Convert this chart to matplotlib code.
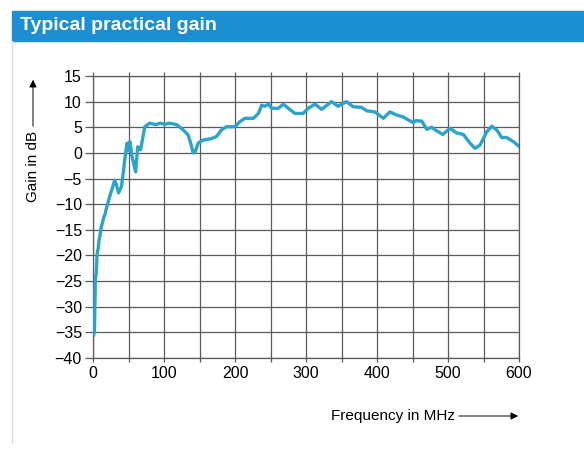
import matplotlib
matplotlib.use('Agg')
import matplotlib.pyplot as plt
from matplotlib.patches import Rectangle
from matplotlib.lines import Line2D
from matplotlib.ticker import MultipleLocator

# Gain curve (MHz, dB)
freq = [1, 2, 2.8, 3.3, 4.7, 5.5, 6, 7.5, 8.5, 10, 11.7, 13.5, 15.5, 17, 18.8,
        21, 23.5, 27, 30.5, 33, 36, 40, 42.5, 44.6, 48, 50, 52, 55, 58, 60,
        63, 67, 73, 80, 89, 94, 101, 108, 118, 127, 134, 137.6, 141, 144,
        148, 155, 167, 174, 181, 188, 200, 207, 214, 226, 233, 237.6, 242,
        247, 251.7, 261, 268, 275, 284.5, 296, 303, 312.7, 322, 336, 345,
        357, 366.5, 378, 385.6, 397, 409, 418, 427.6, 437, 451, 455, 463,
        470, 477, 484, 492.6, 503, 512, 521.7, 531, 538, 545, 554.5, 561.6,
        568.6, 575.6, 582.6, 592, 600]
gain = [-35.5, -34.5, -29, -24.8, -23.2, -20.5, -19.5, -18.5, -17, -16, -14.4, -13.5, -12.4, -12, -10.8,
        -9.8, -8.5, -7, -5.3, -6.2, -7.8, -6.6, -4, -1.4, 1.9, 0.5, 2.2, -0.7, -2.5, -3.7,
        1.2, 0.6, 5.1, 5.8, 5.5, 5.8, 5.6, 5.8, 5.5, 4.5, 3.5, 1.9, 0, 0.2,
        1.9, 2.5, 2.8, 3.2, 4.5, 5.1, 5.1, 6.1, 6.75, 6.75, 7.7, 9.3, 9.1,
        9.5, 8.7, 8.7, 9.5, 8.7, 7.7, 7.7, 8.7, 9.5, 8.5, 10, 9.1,
        10, 9.0, 8.9, 8.2, 8.0, 6.75, 8.0, 7.4, 7.0, 5.9, 6.3, 6.2,
        4.6, 5.0, 4.3, 3.6, 4.8, 3.9, 3.6, 1.9, 0.9, 1.5, 4.1, 5.2,
        4.5, 3.0, 3.0, 2.2, 1.3]

x_ticks = [0, 100, 200, 300, 400, 500, 600]
y_ticks = [15, 10, 5, 0, -5, -10, -15, -20, -25, -30, -35, -40]

W, H = 584, 451
plt.rcParams['font.family'] = ['Liberation Sans', 'DejaVu Sans']

fig = plt.figure(figsize=(W / 100, H / 100), dpi=100)
fig.patch.set_facecolor('white')

# title bar
fig.patches.append(Rectangle((12 / W, 1 - 41 / H), 1 - 12 / W, 30 / H,
                             transform=fig.transFigure, color='#1b8fd1', zorder=0))
fig.text(20 / W, 1 - 26 / H, 'Typical practical gain', color='white', fontsize=14,
         fontweight='bold', va='center', ha='left')
# panel border on the left
fig.lines.append(Line2D([12 / W, 12 / W], [1 - 443 / H, 1 - 41 / H],
                        transform=fig.transFigure, color='#dddddd', lw=1))

ax = fig.add_axes([93 / W, 1 - 358 / H, 426 / W, 282 / H])
ax.plot(freq, gain, color='#2aa4cc', lw=2.4, solid_joinstyle='round', zorder=3)

ax.set_xlim(0, 600)
ax.set_ylim(-40, 15)
ax.set_xticks(x_ticks)
ax.xaxis.set_minor_locator(MultipleLocator(50))
ax.set_yticks(y_ticks)
ax.grid(True, which='both', color='#5a5a5a', lw=0.9)
ax.set_axisbelow(True)
for s in ax.spines.values():
    s.set_color('#5a5a5a')
    s.set_linewidth(0.9)
ax.tick_params(axis='y', direction='out', length=6, width=0.9, color='#5a5a5a',
               labelsize=11.5, pad=2)
ax.tick_params(axis='x', which='both', direction='out', length=3, width=0.9,
               color='#5a5a5a', labelsize=11.5, pad=3, top=True)

# axis titles with arrows
fig.text(33 / W, 1 - 166 / H, 'Gain in dB', rotation=90, ha='center', va='center',
         fontsize=11)
fig.text(455 / W, 1 - 416 / H, 'Frequency in MHz', ha='right', va='center',
         fontsize=11)
ax.annotate('', xy=(33 / W, 1 - 77 / H), xytext=(33 / W, 1 - 129 / H),
            xycoords='figure fraction', textcoords='figure fraction',
            arrowprops=dict(arrowstyle='-|>', color='black', lw=0.7, mutation_scale=11))
ax.annotate('', xy=(521 / W, 1 - 416 / H), xytext=(456 / W, 1 - 416 / H),
            xycoords='figure fraction', textcoords='figure fraction',
            arrowprops=dict(arrowstyle='-|>', color='black', lw=0.7, mutation_scale=11))

fig.savefig('out.png', dpi=100)
